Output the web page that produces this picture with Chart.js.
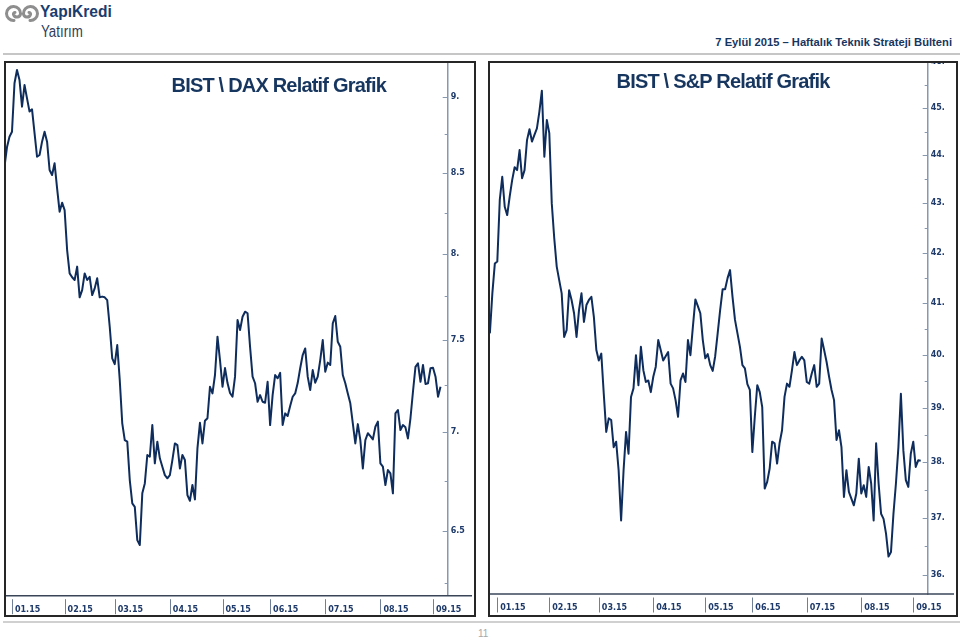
<!DOCTYPE html>
<html><head><meta charset="utf-8">
<script src="https://cdn.jsdelivr.net/npm/chart.js@4.4.1/dist/chart.umd.min.js"></script>
<style>
html,body{margin:0;padding:0;background:#fff;width:960px;height:639px;overflow:hidden;position:relative;font-family:'Liberation Sans',Arial,sans-serif;}
.frame{position:absolute;border:2px solid #262626;box-sizing:border-box;background:#fff;}
.frame canvas{position:absolute;left:0;top:0;}
.title{position:absolute;font-family:'Liberation Sans',Arial,sans-serif;font-weight:bold;font-size:20px;letter-spacing:-0.8px;color:#17365f;white-space:nowrap;line-height:1;}
.rule{position:absolute;height:2px;background:#c6c6c6;}
</style></head><body>

<svg style="position:absolute;left:2px;top:5px" width="40" height="18" viewBox="0 0 40 18">
  <g fill="none" stroke="#8e8e8e" stroke-width="3" stroke-linecap="round">
    <path d="M12 15.5 A7 7 0 1 1 18.5 9 A3.6 3.6 0 0 1 11.5 9.5 A1.6 1.6 0 0 1 13 7.5"/>
    <path d="M28 15.5 A7 7 0 1 0 21.5 9 A3.6 3.6 0 0 0 28.5 9.5 A1.6 1.6 0 0 0 27 7.5"/>
  </g>
</svg>
<div style="position:absolute;left:40px;top:3px;font-family:'Liberation Sans',Arial,sans-serif;font-weight:bold;font-size:17px;line-height:1;color:#1b3c6e;transform:scaleX(0.915);transform-origin:left top;white-space:nowrap;">YapıKredi</div>
<div style="position:absolute;left:41px;top:24px;font-family:'Liberation Sans',Arial,sans-serif;font-size:16px;line-height:1;color:#2d3e5a;transform:scaleX(0.83);transform-origin:left top;white-space:nowrap;">Yatırım</div>
<div style="position:absolute;right:8px;top:36.5px;font-family:'Liberation Sans',Arial,sans-serif;font-weight:bold;font-size:11.2px;line-height:1;color:#17365f;white-space:nowrap;">7 Eylül 2015 – Haftalık Teknik Strateji Bülteni</div>
<div class="rule" style="left:3px;top:53px;width:957px;"></div>

<div class="frame" style="left:4px;top:61px;width:472px;height:556px;"><canvas id="c1" width="468" height="552"></canvas></div>
<div class="frame" style="left:488px;top:61px;width:470px;height:556px;"><canvas id="c2" width="466" height="552"></canvas></div>
<div class="title" style="left:171.5px;top:75.4px;">BIST \ DAX Relatif Grafik</div>
<div class="title" style="left:616.5px;top:71.4px;">BIST \ S&amp;P Relatif Grafik</div>

<div class="rule" style="left:3px;top:621px;width:957px;background:#d0d0d0;"></div>
<div style="position:absolute;left:478px;top:629px;font-size:10px;line-height:1;color:#a8a8a8;font-family:'Liberation Sans',Arial,sans-serif;">11</div>

<script>
// ---- data (trading-day index, first point = 3 sessions before 2 Jan 2015) ----
const firstDay = -3;
const monthStartDay = [0, 21, 41, 63, 84, 103, 125, 147, 168];
const monthLabels = ['01.15','02.15','03.15','04.15','05.15','06.15','07.15','08.15','09.15'];

const bistDax = [
 8.540,8.665,8.734,8.767,9.091,9.182,9.113,8.933,9.079,8.989,
 8.900,8.915,8.757,8.604,8.615,8.702,8.767,8.702,8.519,8.487,
 8.562,8.403,8.257,8.313,8.267,8.023,7.884,7.861,7.845,7.924,
 7.744,7.786,7.884,7.845,7.864,7.757,7.796,7.855,7.744,7.748,
 7.744,7.728,7.575,7.398,7.366,7.472,7.279,7.046,6.958,6.950,
 6.753,6.636,6.619,6.456,6.432,6.686,6.736,6.881,6.872,7.037,
 6.838,6.950,6.864,6.821,6.778,6.762,6.778,6.855,6.941,6.932,
 6.812,6.881,6.855,6.677,6.649,6.728,6.656,6.915,7.049,6.941,
 7.060,7.073,7.242,7.206,7.306,7.519,7.388,7.242,7.344,7.262,
 7.208,7.188,7.297,7.613,7.556,7.632,7.661,7.652,7.462,7.297,
 7.261,7.161,7.197,7.161,7.156,7.269,7.037,7.197,7.306,7.288,
 7.318,7.037,7.099,7.085,7.138,7.188,7.206,7.262,7.343,7.416,
 7.453,7.297,7.224,7.333,7.264,7.297,7.388,7.500,7.324,7.374,
 7.361,7.594,7.636,7.490,7.462,7.306,7.261,7.206,7.153,7.046,
 6.941,7.042,6.958,6.812,6.958,6.994,6.979,6.962,7.028,7.055,
 6.838,6.821,6.728,6.804,6.787,6.686,7.099,7.117,7.011,7.037,
 7.025,6.967,7.073,7.215,7.351,7.370,7.269,7.361,7.257,7.261,
 7.343,7.346,7.297,7.188,7.242
];
const bistSp = [
 40.41,41.19,41.78,41.82,43.07,43.55,42.93,42.76,43.14,43.48,
 43.75,43.69,44.11,43.52,43.69,44.32,44.55,44.29,44.43,44.57,
 44.93,45.38,43.97,44.75,44.47,43.00,42.29,41.72,41.45,41.19,
 40.34,40.47,41.25,41.06,40.80,40.34,40.86,41.19,40.63,40.96,
 41.06,41.12,40.73,40.09,39.89,40.02,39.26,38.55,38.80,38.77,
 38.27,38.37,37.85,36.95,37.85,38.55,38.15,39.20,39.36,39.99,
 39.42,40.15,39.70,39.48,39.51,39.29,39.58,39.77,40.28,40.09,
 39.89,39.97,40.05,39.45,39.36,39.14,38.83,39.51,39.64,39.48,
 40.28,39.99,40.54,41.07,40.94,40.80,40.28,39.93,40.01,39.80,
 39.69,39.97,40.41,40.86,41.27,41.27,41.49,41.65,41.12,40.67,
 40.41,40.15,39.80,39.74,39.44,39.33,38.18,38.83,39.42,39.29,
 39.01,37.52,37.64,37.88,38.37,38.34,37.97,38.34,38.58,39.20,
 39.45,39.39,39.70,40.05,39.80,39.89,39.96,39.89,39.48,39.45,
 39.64,39.80,39.39,39.45,40.31,40.09,39.86,39.58,39.33,39.14,
 38.40,38.58,38.27,37.37,37.85,37.46,37.34,37.22,37.43,38.06,
 37.43,37.58,37.37,37.91,37.61,36.95,38.34,37.61,37.07,36.98,
 36.72,36.32,36.40,37.07,37.61,38.27,39.26,38.21,37.67,37.55,
 38.15,38.37,37.91,38.03,38.02
];

const daxTicks = [6.5, 7, 7.5, 8, 8.5, 9];
const daxTickLabels = ['6.5','7.','7.5','8.','8.5','9.'];
const daxMinor = [6.25, 6.75, 7.25, 7.75, 8.25, 8.75];
const spTicks = [36, 37, 38, 39, 40, 41, 42, 43, 44, 45, 46];
const spTickLabels = ['36.','37.','38.','39.','40.','41.','42.','43.','44.','45.','46.'];
const spMinor = [36.5, 37.5, 38.5, 39.5, 40.5, 41.5, 42.5, 43.5, 44.5, 45.5];

// ---- drawing ----
const LINE = '#0f2d5c', LABEL = '#1e3a6a', YAXIS = '#8797ad', XAXIS = '#3a4658', XTICK = '#6f7f96';
const FONT = {family: "'DejaVu Sans', Verdana, sans-serif", size: 8, weight: 'bold'};

const axisDecor = {
  id: 'axisDecor',
  afterDraw(chart, args, o) {
    const {ctx, chartArea: ca, scales} = chart;
    const xs = scales.x, ys = scales.y;
    ctx.save();
    ctx.lineWidth = 1;
    ctx.strokeStyle = YAXIS;
    const mark = (v, len) => {
      const py = Math.round(ys.getPixelForValue(v)) + 0.5;
      if (py < ca.top - 0.5 || py > ca.bottom) return;
      ctx.beginPath(); ctx.moveTo(ca.right - len, py); ctx.lineTo(ca.right, py); ctx.stroke();
    };
    o.major.forEach(v => mark(v, 5));
    o.minor.forEach(v => mark(v, 3));
    ctx.strokeStyle = XTICK;
    xs.ticks.forEach(t => {
      const px = Math.round(xs.getPixelForValue(t.value)) + 0.5;
      ctx.beginPath(); ctx.moveTo(px, ca.bottom + 3.5); ctx.lineTo(px, ca.bottom + 18.5); ctx.stroke();
    });
    ctx.strokeStyle = XAXIS;
    ctx.lineWidth = 1.6;
    ctx.beginPath(); ctx.moveTo(0, ca.bottom); ctx.lineTo(chart.width - 2, ca.bottom); ctx.stroke();
    ctx.restore();
  }
};

function makeChart(id, values, cfg) {
  const pts = values.map((v, i) => ({x: firstDay + i, y: v}));
  return new Chart(document.getElementById(id), {
    type: 'line',
    data: {datasets: [{data: pts, borderColor: LINE, borderWidth: 2, pointRadius: 0, tension: 0, borderJoinStyle: 'round', fill: false}]},
    options: {
      responsive: false, animation: false, devicePixelRatio: 1,
      layout: {padding: 0, autoPadding: false},
      plugins: {legend: {display: false}, tooltip: {enabled: false}, axisDecor: {major: cfg.ticks, minor: cfg.minor}},
      scales: {
        x: {
          type: 'linear', position: 'bottom', min: cfg.xmin, max: cfg.xmax,
          grid: {display: false}, border: {display: false},
          afterBuildTicks: ax => { ax.ticks = monthStartDay.map(v => ({value: v})); },
          afterFit: ax => { ax.height = cfg.xh; ax.paddingLeft = 0; ax.paddingRight = 0; },
          ticks: {callback: (v, i) => monthLabels[i], align: 'start', labelOffset: 3, padding: 1,
                  autoSkip: false, maxRotation: 0, font: FONT, color: LABEL}
        },
        y: {
          type: 'logarithmic', position: 'right', min: cfg.ymin, max: cfg.ymax,
          grid: {display: false, drawTicks: false}, border: {display: true, color: YAXIS, width: 1.5},
          afterBuildTicks: ax => { ax.ticks = cfg.ticks.map(v => ({value: v})); },
          afterFit: ax => { ax.width = cfg.yw; ax.paddingTop = 0; ax.paddingBottom = 0; },
          ticks: {callback: (v, i) => cfg.labels[i], padding: 3, font: FONT, color: LABEL}
        }
      }
    },
    plugins: [axisDecor]
  });
}

makeChart('c1', bistDax, {xmin: -2.39, xmax: 173.86, ymin: 6.1925, ymax: 9.2301, xh: 19.3, yw: 26.3,
  ticks: daxTicks, labels: daxTickLabels, minor: daxMinor});
makeChart('c2', bistSp, {xmin: -2.95, xmax: 173.83, ymin: 35.675, ymax: 45.985, xh: 21, yw: 28.3,
  ticks: spTicks, labels: spTickLabels, minor: spMinor});
</script>
</body></html>
